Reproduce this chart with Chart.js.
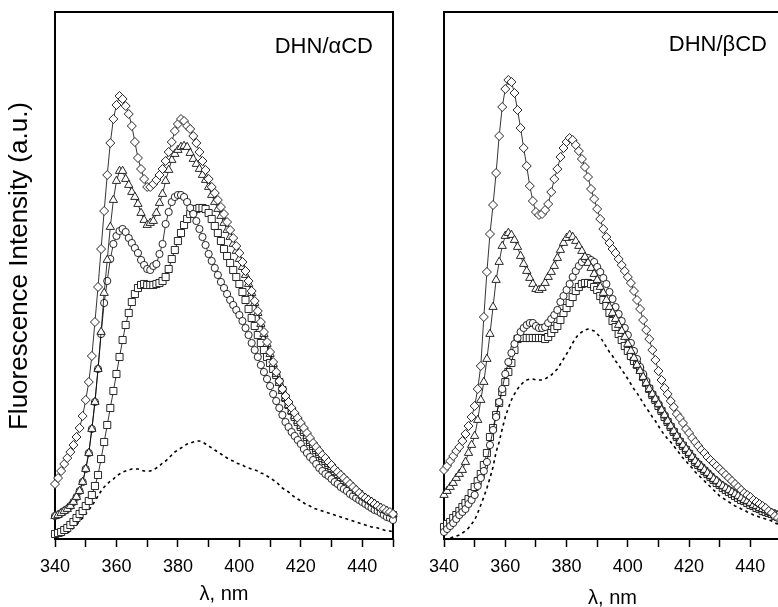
<!DOCTYPE html>
<html><head><meta charset="utf-8">
<script src="https://cdn.jsdelivr.net/npm/chart.js@4.4.0/dist/chart.umd.min.js"></script>
<style>
html,body{margin:0;padding:0;width:778px;height:607px;overflow:hidden;background:#fff;}
#c1{position:absolute;left:0;top:0;}
#c2{position:absolute;left:420px;top:0;}
</style></head><body>
<canvas id="c1" width="402" height="607"></canvas>
<canvas id="c2" width="370" height="607"></canvas>
<script>
// wavelength (nm), 1 nm sampling
const wavelength = [
340,341,342,343,344,345,346,347,348,349,
350,351,352,353,354,355,356,357,358,359,
360,361,362,363,364,365,366,367,368,369,
370,371,372,373,374,375,376,377,378,379,
380,381,382,383,384,385,386,387,388,389,
390,391,392,393,394,395,396,397,398,399,
400,401,402,403,404,405,406,407,408,409,
410,411,412,413,414,415,416,417,418,419,
420,421,422,423,424,425,426,427,428,429,
430,431,432,433,434,435,436,437,438,439,
440,441,442,443,444,445,446,447,448,449,450];

const xTicks = [340, 360, 380, 400, 420, 440];
const panelLabels = ['DHN/\u03B1CD', 'DHN/\u03B2CD'];
const yTitle = 'Fluorescence Intensity (a.u.)';

// ---- DHN / alpha-CD (intensity, a.u.) ----
const alphaDiamond = [
55,61,68,75,81,87,94,102,111,123,
139,157,183,217,252,290,328,364,396,420,
434,443,440,433,425,413,397,381,370,360,
352,352,355,359,364,370,378,387,397,408,
415,420,418,413,410,403,396,387,378,369,
360,352,346,339,332,325,317,309,301,293,
286,277,268,258,248,238,228,217,207,197,
187,177,167,158,150,143,137,131,126,121,
116,111,106,101,96,92,88,84,81,77,
74,70,67,64,61,58,55,52,49,46,
43,41,39,37,35,33,31,30,28,27,25];
const alphaTriangle = [
23,24,26,28,30,33,37,42,48,57,
70,86,110,137,170,207,246,279,312,339,
358,368,368,360,354,347,342,335,326,319,
314,316,318,326,336,345,358,369,379,385,
389,392,393,392,386,380,375,370,364,359,
352,344,337,330,323,316,309,302,295,288,
280,272,264,255,246,236,226,215,205,195,
185,175,165,156,148,141,134,128,123,118,
113,108,103,98,94,90,86,82,79,75,
72,69,66,63,60,57,54,51,48,46,
43,41,39,37,35,33,31,29,28,26,25];
const alphaCircle = [
23,24,26,28,30,33,37,42,48,57,
70,86,110,137,170,205,236,258,280,295,
303,308,310,307,301,296,291,286,279,274,
270,269,273,275,285,295,315,327,337,342,
344,344,342,337,331,325,318,310,302,294,
285,278,271,264,257,251,245,239,234,229,
224,218,211,204,196,189,182,174,167,160,
153,145,138,131,124,117,112,107,103,99,
95,90,86,82,79,75,71,68,65,63,
60,57,55,52,50,48,45,43,41,39,
37,35,33,31,29,28,26,24,22,21,19];
const alphaSquare = [
5,6,7,9,11,14,17,21,25,28,
33,38,44,53,64,80,97,114,131,148,
165,182,199,214,226,237,245,251,254,255,
254,254,254,255,256,258,262,270,280,289,
298,306,314,320,325,328,330,331,331,330,
326,320,313,306,298,290,283,276,269,262,
255,247,239,230,221,213,204,196,189,182,
176,170,164,157,149,141,134,128,122,117,
112,107,102,97,93,89,85,81,78,74,
71,68,65,62,59,56,53,50,47,45,
42,40,38,36,34,32,30,28,27,25,24];
const alphaFree = [
1,2,3,4,6,8,11,14,18,21,
25,29,33,38,43,48,52,55,58,60,
63,65,67,68,69,70,70,70,69,68,
68,68,69,71,73,76,78,81,84,87,
89,91,93,95,96,97,98,98,97,95,
93,91,89,87,85,83,81,79,78,76,
75,74,72,71,70,69,68,66,65,63,
61,59,57,54,51,49,47,44,42,40,
38,36,34,33,31,30,29,28,27,26,
25,24,23,22,21,20,19,18,17,16,
15,14,13,12,12,11,10,9,8,8,7];

// ---- DHN / beta-CD (intensity, a.u.) ----
const betaDiamond = [
69,73,78,83,88,92,98,105,113,122,
133,150,173,222,267,305,334,366,403,432,
450,459,457,446,429,411,391,373,353,338,
327,324,325,329,335,347,360,370,382,391,
397,401,399,394,388,380,372,362,350,340,
330,320,310,302,296,290,286,280,274,268,
262,256,248,239,230,219,209,200,189,179,
168,159,151,145,138,132,125,121,116,110,
106,101,97,93,89,86,82,79,76,73,
70,67,64,61,58,55,52,49,46,44,
42,39,37,35,33,31,28,26,23,21,19];
const betaTriangle = [
44,48,52,56,61,65,69,77,86,94,
103,119,139,157,180,205,232,259,277,293,
303,306,304,299,292,283,275,268,261,255,
250,249,251,256,262,267,273,281,289,296,
301,304,302,298,293,288,282,276,271,265,
259,252,246,239,232,226,220,214,208,202,
195,188,181,174,168,162,156,150,145,140,
135,129,124,118,113,108,103,98,94,90,
86,82,78,75,72,69,66,63,60,58,
55,53,51,49,47,45,43,41,39,38,
36,34,33,31,30,29,27,26,25,24,23];
const betaCircle = [
7,10,13,16,20,24,27,30,35,39,
44,53,61,68,77,94,109,122,137,150,
165,177,186,195,201,207,211,214,216,216,
213,211,211,212,216,220,224,229,237,243,
249,255,262,268,273,277,280,281,279,277,
272,267,261,255,247,240,232,225,218,211,
204,196,188,180,172,165,158,151,145,140,
135,129,124,118,113,108,103,98,94,90,
86,82,78,75,72,69,66,63,60,58,
55,53,51,49,47,45,43,41,39,38,
36,34,33,31,30,29,27,26,25,24,23];
const betaSquare = [
12,15,17,21,24,28,32,36,40,46,
52,58,65,74,86,102,111,124,136,147,
157,167,176,189,200,201,201,201,201,201,
201,201,201,200,202,206,210,213,219,226,
231,236,242,248,252,255,256,256,255,252,
249,243,239,233,226,218,212,205,199,193,
188,183,178,174,169,162,156,150,144,139,
133,128,122,117,112,107,102,97,93,89,
85,81,77,74,71,68,65,62,59,56,
54,51,49,47,45,43,41,39,38,36,
34,33,31,30,28,27,26,25,23,22,21];
const betaFree = [
0,0,1,2,3,4,6,8,11,15,
19,26,34,42,51,61,72,87,97,110,
122,131,139,145,150,154,157,159,160,160,
159,159,159,160,162,164,167,170,175,180,
185,190,196,201,205,207,209,210,209,208,
205,202,197,192,187,183,178,174,169,165,
160,155,150,146,141,136,131,127,122,118,
113,108,104,100,97,93,89,85,81,78,
74,71,67,64,61,58,55,52,49,46,
43,41,39,37,35,33,32,30,29,27,
26,24,23,22,21,20,19,18,16,15,14];

const FONT = "'Liberation Sans', Arial, Helvetica, sans-serif";

function pts(values) { return wavelength.map((x, i) => ({ x: x, y: values[i] })); }

function markerSet(values, style, radius) {
  return {
    data: pts(values), borderColor: '#000', borderWidth: 0.8,
    pointStyle: style, pointRadius: radius, pointBorderColor: '#111',
    pointBackgroundColor: '#fff', pointBorderWidth: 0.9,
    fill: false, tension: 0, clip: 8
  };
}
function dashSet(values) {
  return {
    data: pts(values), borderColor: '#000', borderWidth: 1.6,
    borderDash: [3, 3.5], pointRadius: 0, fill: false, tension: 0, clip: 4
  };
}

const framePlugin = {
  id: 'frame',
  beforeDatasetsDraw(chart) {
    const { ctx, chartArea: a } = chart;
    ctx.save();
    ctx.strokeStyle = '#000'; ctx.lineWidth = 2;
    ctx.strokeRect(a.left, a.top, a.right - a.left, a.bottom - a.top);
    ctx.restore();
  },
  afterDraw(chart, args, o) {
    const { ctx } = chart;
    ctx.save();
    ctx.font = '22px ' + FONT; ctx.fillStyle = '#000';
    ctx.textAlign = 'right'; ctx.textBaseline = 'middle';
    ctx.fillText(o.text, o.x, o.y);
    if (o.yTitle) {
      ctx.translate(o.yTitleX, o.yTitleY);
      ctx.rotate(-Math.PI / 2);
      ctx.textAlign = 'center';
      ctx.font = '26px ' + FONT;
      ctx.fillText(o.yTitle, 0, 0);
    }
    ctx.restore();
  }
};

function makeChart(id, sets, cfg) {
  return new Chart(document.getElementById(id), {
    type: 'line',
    data: { datasets: [
      markerSet(sets[0], 'rectRot', 4.5),
      markerSet(sets[1], 'triangle', 4.8),
      markerSet(sets[2], 'circle', 3.6),
      markerSet(sets[3], 'rect', 5),
      dashSet(sets[4])
    ] },
    plugins: [framePlugin],
    options: {
      responsive: false, animation: false, devicePixelRatio: 1,
      layout: { padding: { top: 12, right: cfg.padRight, left: 0, bottom: 0 } },
      plugins: { legend: { display: false }, tooltip: { enabled: false },
        frame: { text: cfg.label, x: cfg.labelX, y: cfg.labelY,
                 yTitle: cfg.yTitle, yTitleX: 20, yTitleY: 266 } },
      scales: {
        x: {
          type: 'linear', min: 340, max: 450,
          afterFit: (s) => { s.height = 68; },
          ticks: { stepSize: 10, autoSkip: false, maxRotation: 0, padding: 9, color: '#000',
            font: { family: FONT, size: 18 },
            callback: (v) => xTicks.includes(v) ? String(v) : '' },
          grid: { display: true, drawOnChartArea: false, drawTicks: true, tickLength: 8,
            tickWidth: 1.5, tickColor: '#000', color: '#000' },
          border: { display: false },
          title: { display: true, text: '\u03BB, nm', color: '#000',
            font: { family: FONT, size: 20 }, padding: { top: 0, bottom: cfg.titlePad } }
        },
        y: {
          min: 0, max: 527,
          afterFit: (s) => { s.width = cfg.yWidth; },
          ticks: { display: false },
          grid: { display: false },
          border: { display: false }
        }
      }
    }
  });
}

makeChart('c1', [alphaDiamond, alphaTriangle, alphaCircle, alphaSquare, alphaFree],
  { label: panelLabels[0], labelX: 373, labelY: 47, padRight: 3, yWidth: 55, yTitle: yTitle, titlePad: 1 });
makeChart('c2', [betaDiamond, betaTriangle, betaCircle, betaSquare, betaFree],
  { label: panelLabels[1], labelX: 347, labelY: 45, padRight: 6, yWidth: 19, yTitle: '', titlePad: -3 });
</script>
</body></html>
